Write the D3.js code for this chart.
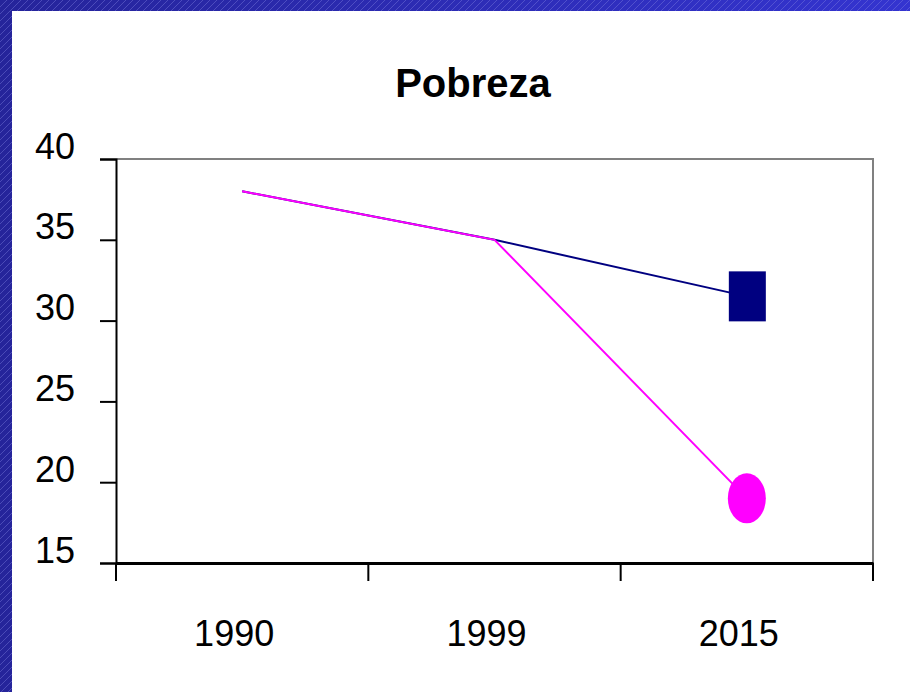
<!DOCTYPE html>
<html>
<head>
<meta charset="utf-8">
<script src="https://cdn.jsdelivr.net/npm/d3@7"></script>
<style>
  body { margin: 0; padding: 0; background: #fff; }
  text { font-family: Arial, "Liberation Sans", sans-serif; fill: #000; }
</style>
</head>
<body>
<div id="chart-area"></div>
<script>

// Data
var years = ["1990", "1999", "2015"];
var tendencia = [38, 35, 31.5];   // azul
var meta = [38, 35, 19];          // rosa
var yTicks = [15, 20, 25, 30, 35, 40];

var W = 910, H = 692;
var margin = {top: 159, right: 37, bottom: 129, left: 116};
var width = W - margin.left - margin.right,
    height = H - margin.top - margin.bottom;

var svg = d3.select("#chart-area").append("svg")
    .attr("width", W)
    .attr("height", H);

// slide background (blue hatched border)
var defs = svg.append("defs");
var grad = defs.append("linearGradient").attr("id", "bg-grad")
    .attr("x1", "0%").attr("x2", "100%").attr("y1", "0%").attr("y2", "0%");
grad.append("stop").attr("offset", "0%").attr("stop-color", "#25249a");
grad.append("stop").attr("offset", "100%").attr("stop-color", "#3434d0");

var pat = defs.append("pattern").attr("id", "hatch")
    .attr("patternUnits", "userSpaceOnUse")
    .attr("width", 7).attr("height", 7);
pat.append("path").attr("d", "M0,7 L7,0")
    .attr("stroke", "#8080e0").attr("stroke-width", 0.6).attr("opacity", 0.7);

svg.append("rect").attr("width", W).attr("height", H).attr("fill", "url(#bg-grad)");
svg.append("rect").attr("width", W).attr("height", H).attr("fill", "url(#hatch)");
svg.append("rect").attr("x", 12).attr("y", 11)
    .attr("width", W - 12).attr("height", H - 11).attr("fill", "#fff");

// title
svg.append("text")
    .attr("x", 473).attr("y", 97)
    .attr("text-anchor", "middle")
    .style("font-size", "40px").style("font-weight", "bold")
    .text("Pobreza");

var group = svg.append("g")
    .attr("transform", "translate(" + margin.left + "," + margin.top + ")");

// Scales
var x = d3.scaleBand().domain(years).range([0, width]);
var y = d3.scaleLinear().domain([15, 40]).range([height, 0]);

// plot frame (gray top / right)
group.append("path")
    .attr("d", "M0,0 H" + width + " V" + height)
    .attr("fill", "none").attr("stroke", "#808080").attr("stroke-width", 2);

// axes
var yAxis = d3.axisLeft(y).tickValues(yTicks).tickSize(16).tickPadding(25);
var yG = group.append("g").attr("class", "axis y-axis").call(yAxis);
yG.select(".domain").attr("stroke", "#000").attr("stroke-width", 2);
yG.selectAll(".tick line").attr("stroke", "#000").attr("stroke-width", 2);
yG.selectAll(".tick text")
    .attr("x", -41).attr("dy", "-1px")
    .style("font-size", "36px").style("font-family", "Arial, 'Liberation Sans', sans-serif");

var xAxis = d3.axisBottom(x).tickSize(0).tickPadding(0);
var xG = group.append("g").attr("class", "axis x-axis")
    .attr("transform", "translate(0," + height + ")")
    .call(xAxis);
xG.select(".domain").attr("stroke", "#000").attr("stroke-width", 3);
xG.selectAll(".tick text")
    .attr("y", 83).attr("dy", 0).attr("dx", -8)
    .style("font-size", "36px").style("font-family", "Arial, 'Liberation Sans', sans-serif");

// category boundary ticks
var bounds = years.map(function(d) { return x(d); }).concat([width]);
xG.selectAll("line.bound").data(bounds).enter().append("line")
    .attr("class", "bound")
    .attr("x1", function(d) { return d; }).attr("x2", function(d) { return d; })
    .attr("y1", 0).attr("y2", 18)
    .attr("stroke", "#000").attr("stroke-width", 2);

// lines
var cx = function(d, i) { return x(years[i]) + x.bandwidth() / 2; };
var line = d3.line().x(cx).y(function(d) { return y(d); });

group.append("path").datum(tendencia)
    .attr("d", line).attr("fill", "none")
    .attr("stroke", "#000080").attr("stroke-width", 2);
group.append("path").datum(meta)
    .attr("d", line).attr("fill", "none")
    .attr("stroke", "#ff00ff").attr("stroke-width", 2);

// markers on last point
var last = years.length - 1;
group.append("rect")
    .attr("x", cx(null, last) - 18).attr("y", y(tendencia[last]) - 25)
    .attr("width", 37).attr("height", 50)
    .attr("fill", "#000080");
group.append("ellipse")
    .attr("cx", cx(null, last)).attr("cy", y(meta[last]))
    .attr("rx", 19).attr("ry", 25)
    .attr("fill", "#ff00ff");

</script>
</body>
</html>
